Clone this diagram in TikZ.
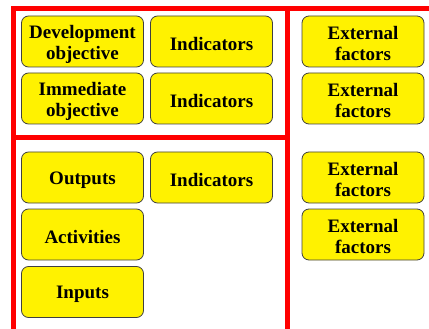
\documentclass[tikz,border=0pt]{standalone}
\usepackage{fontspec}
\setmainfont{Liberation Serif}[BoldFont={Liberation Serif Bold}]
\begin{document}
\begin{tikzpicture}[x=1pt,y=-1pt,
  redline/.style={draw=red, line width=5pt},
  ybox/.style={draw=black!75, line width=0.8pt, fill=yellow, rounded corners=7pt,
    minimum width=122pt, minimum height=51pt, inner sep=0pt},
  ytext/.style={inner sep=0pt, align=center, yshift=-2.5pt,
    font=\fontsize{19}{21}\selectfont\bfseries}]
\useasboundingbox (0,0) rectangle (429,329);
% red frame
\draw[redline] (13.5,331) -- (13.5,8.5) -- (440,8.5);
\draw[redline] (287,8.5) -- (287,340);
\draw[redline] (11,137.5) -- (289.5,137.5);
\draw[redline] (11,331) -- (440,331);
% boxes
\node[ybox] (dev) at (82.5,41.5) {};
\node[ybox] (ind1) at (211.5,41.5) {};
\node[ybox] (ext1) at (363,41.5) {};
\node[ybox] (imm) at (82.5,98.5) {};
\node[ybox] (ind2) at (211.5,98.5) {};
\node[ybox] (ext2) at (363,98.5) {};
\node[ybox] (out) at (82.5,177.5) {};
\node[ybox] (ind3) at (211.5,177.5) {};
\node[ybox] (ext3) at (363,177.5) {};
\node[ybox] (act) at (82.5,234.5) {};
\node[ybox] (ext4) at (363,234.5) {};
\node[ybox] (inp) at (82.5,292) {};
% texts
\node[ytext] (tdev) at (dev.center) {Development\\objective};
\node[ytext] (tind1) at (ind1.center) {Indicators};
\node[ytext] (text1) at (ext1.center) {External\\factors};
\node[ytext] (timm) at (imm.center) {Immediate\\objective};
\node[ytext] (tind2) at (ind2.center) {Indicators};
\node[ytext] (text2) at (ext2.center) {External\\factors};
\node[ytext] (tout) at (out.center) {Outputs};
\node[ytext] (tind3) at (ind3.center) {Indicators};
\node[ytext] (text3) at (ext3.center) {External\\factors};
\node[ytext] (tact) at (act.center) {Activities};
\node[ytext] (text4) at (ext4.center) {External\\factors};
\node[ytext] (tinp) at (inp.center) {Inputs};
\end{tikzpicture}
\end{document}
